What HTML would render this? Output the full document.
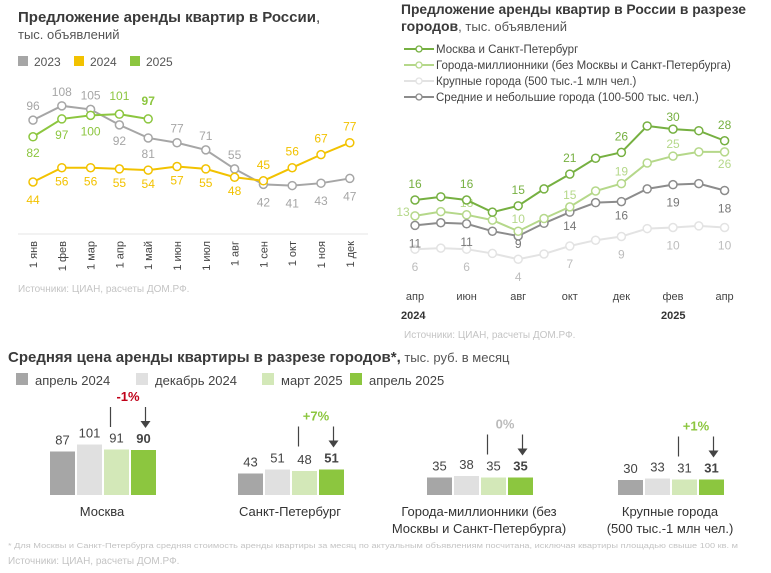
<!DOCTYPE html>
<html><head><meta charset="utf-8"><style>
body{margin:0;width:771px;height:568px;background:#fff;overflow:hidden;font-family:"Liberation Sans",sans-serif}
svg text{font-family:"Liberation Sans",sans-serif}
</style></head><body>
<svg id="s" width="771" height="568">
<g>
<text x="18" y="22" font-size="15" font-weight="bold" fill="#3a3a3a">Предложение аренды квартир в России<tspan font-weight="normal">,</tspan></text>
<text x="18" y="39" font-size="13" fill="#555">тыс. объявлений</text>
</g>
<g>
<text x="401" y="14" font-size="14" font-weight="bold" fill="#3a3a3a" textLength="345" lengthAdjust="spacingAndGlyphs">Предложение аренды квартир в России в разрезе</text>
<text x="401" y="31" font-size="14" font-weight="bold" fill="#3a3a3a">городов<tspan font-weight="normal" font-size="13" fill="#555">, тыс. объявлений</tspan></text>
</g>
<text x="18" y="292" font-size="10" fill="#c4c4c4">Источники: ЦИАН, расчеты ДОМ.РФ.</text>
<text x="404" y="338" font-size="10" fill="#c4c4c4">Источники: ЦИАН, расчеты ДОМ.РФ.</text>
<g>
<text x="8" y="362" font-size="15" font-weight="bold" fill="#3a3a3a">Средняя цена аренды квартиры в разрезе городов*,<tspan font-weight="normal" font-size="13" fill="#555"> тыс. руб. в месяц</tspan></text>
</g>
<text x="8" y="548" font-size="7" fill="#c4c4c4" textLength="730" lengthAdjust="spacingAndGlyphs">* Для Москвы и Санкт-Петербурга средняя стоимость аренды квартиры за месяц по актуальным объявлениям посчитана, исключая квартиры площадью свыше 100 кв. м</text>
<text x="8" y="564" font-size="10" fill="#c4c4c4">Источники: ЦИАН, расчеты ДОМ.РФ.</text>
</svg>
<script>
// ---- left chart data ----
const leftMonths=["1 янв","1 фев","1 мар","1 апр","1 май","1 июн","1 июл","1 авг","1 сен","1 окт","1 ноя","1 дек"];
const s2023=[96,108,105,92,81,77,71,55,42,41,43,47];
const s2024=[44,56,56,55,54,57,55,48,45,56,67,77];
const s2025=[82,97,100,101,97];
// ---- right chart data ----
const rightTicks=["апр","июн","авг","окт","дек","фев","апр"];
const rMsk=[16,16.6,16,13.7,14.9,18.1,20.9,23.9,25,30,29.4,29.1,27.2];
const rMil=[13,13.8,13.2,12.2,10.1,12.5,14.7,17.7,19.1,23,24.3,25.1,25.1];
const rLarge=[6.7,6.9,6.7,5.9,4.8,5.8,7.3,8.4,9.1,10.6,10.8,11.1,10.8];
const rMid=[11.2,11.7,11.5,10.1,9.2,11.6,13.7,15.5,15.7,18.1,18.9,19.1,17.8];
const lblMsk=[16,16,15,21,26,30,28];
const lblMil=[13,13,10,15,19,25,26];
const lblLarge=[6,6,4,7,9,10,10];
const lblMid=[11,11,9,14,16,19,18];
// ---- bar chart data ----
const barCats=[["Москва"],["Санкт-Петербург"],["Города-миллионники (без","Москвы и Санкт-Петербурга)"],["Крупные города","(500 тыс.-1 млн чел.)"]];
const barPeriods=["апрель 2024","декабрь 2024","март 2025","апрель 2025"];
const barVals=[[87,101,91,90],[43,51,48,51],[35,38,35,35],[30,33,31,31]];
const barChg=["-1%","+7%","0%","+1%"];

const NS="http://www.w3.org/2000/svg",S=document.getElementById('s');
function el(t,a,p){const e=document.createElementNS(NS,t);for(const k in a)e.setAttribute(k,a[k]);(p||S).appendChild(e);return e;}
function tx(x,y,s,a,p){const e=el('text',Object.assign({x:x,y:y},a),p);e.textContent=s;return e;}

// LEFT CHART
const lx=i=>33+i*28.8, ly=v=>182-(v-44)*1.19;
const L=el('g',{});


const legL=[["2023","#a6a6a6"],["2024","#f2c200"],["2025","#8cc63f"]];
legL.forEach((d,i)=>{const g=el('g',{},L);


el('rect',{x:18+i*56,y:56,width:10,height:10,fill:d[1]},g);tx(34+i*56,66,d[0],{'font-size':12,fill:'#555'},g);});
el('line',{x1:18,x2:368,y1:234,y2:234,stroke:'#eee','stroke-width':1.5},L);
leftMonths.forEach((m,i)=>{const t=tx(0,0,m,{'font-size':11,fill:'#444','text-anchor':'end',transform:`translate(${lx(i)+4},241) rotate(-90)`},L);

});
function series(arr,col,name,lbl){const g=el('g',{},L);


el('polyline',{points:arr.map((v,i)=>lx(i)+','+ly(v)).join(' '),fill:'none',stroke:col,'stroke-width':2},g);
arr.forEach((v,i)=>{const c=el('circle',{cx:lx(i),cy:ly(v),r:4,fill:'#fff',stroke:col,'stroke-width':1.5},g);


const o=lbl(i);tx(lx(i),ly(v)+o,v,{'font-size':12,fill:col,'text-anchor':'middle','font-weight':(name=='series-2025'&&i==4)?'bold':'normal'},g);});}
series(s2023,'#a6a6a6','series-2023',i=>(i==3||i==4)?20:(i<8?-10:22));
series(s2024,'#f2c200','series-2024',i=>(i<8?(i==0?22:18):-12));
series(s2025,'#8cc63f','series-2025',i=>(i<3?20:-14));

// RIGHT CHART
const rx=i=>415+i*25.8, ry=v=>200-(v-16)*5.29;
const R=el('g',{});


const legR=[["Москва и Санкт-Петербург","#76b041"],["Города-миллионники (без Москвы и Санкт-Петербурга)","#b5d88a"],["Крупные города (500 тыс.-1 млн чел.)","#e3e3e3"],["Средние и небольшие города (100-500 тыс. чел.)","#8c8c8c"]];
legR.forEach((d,i)=>{const g=el('g',{},R);const y=49+i*16;


el('line',{x1:404,x2:434,y1:y,y2:y,stroke:d[1],'stroke-width':2},g);el('circle',{cx:419,cy:y,r:3,fill:'#fff',stroke:d[1],'stroke-width':1.3},g);
tx(436,y+4,d[0],{'font-size':11.5,fill:'#444'},g);});
rightTicks.forEach((m,k)=>{const t=tx(rx(k*2),300,m,{'font-size':11,fill:'#444','text-anchor':'middle'},R);

});
tx(401,319,'2024',{'font-size':11,'font-weight':'bold',fill:'#333'},R);
tx(661,319,'2025',{'font-size':11,'font-weight':'bold',fill:'#333'},R);
function rser(arr,lbls,col,lcol,name,off){const g=el('g',{},R);


el('polyline',{points:arr.map((v,i)=>rx(i)+','+ry(v)).join(' '),fill:'none',stroke:col,'stroke-width':2},g);
arr.forEach((v,i)=>{const c=el('circle',{cx:rx(i),cy:ry(v),r:4,fill:'#fff',stroke:col,'stroke-width':1.5},g);

});
lbls.forEach((v,k)=>{const i=k*2;const o=off(k);tx(rx(i)+(o[0]||0),ry(arr[i])+o[1],v,{'font-size':12,fill:lcol,'text-anchor':'middle'},g);});}
rser(rLarge,lblLarge,'#e3e3e3','#bdbdbd','series-large-cities',k=>[0,22]);
rser(rMid,lblMid,'#8c8c8c','#777','series-mid-cities',k=>[0,k==2?12:(k==3||k==4)?18:22]);
rser(rMil,lblMil,'#b5d88a','#b5d88a','series-millionaire-cities',k=>k==0?[-12,0]:k==6?[0,16]:[0,-8]);
rser(rMsk,lblMsk,'#76b041','#76b041','series-moscow-spb',k=>k==5?[0,-8]:[0,-12]);

// BAR CHART
const bcol=["#a6a6a6","#e0e0e0","#d3e8b8","#8cc63f"];
const B=el('g',{});


barPeriods.forEach((p,i)=>{const g=el('g',{},B);const xs=[16,136,262,350][i];


el('rect',{x:xs,y:373,width:12,height:12,fill:bcol[i]},g);tx(xs+19,385,p,{'font-size':13,fill:'#444'},g);});
const gx=[50,238,427,618],bw=25,base=495,by=v=>base-v*0.5;
barVals.forEach((vals,c)=>{const g=el('g',{},B);


vals.forEach((v,j)=>{const x=gx[c]+j*27;const r=el('rect',{x:x,y:by(v),width:bw,height:base-by(v),fill:bcol[j]},g);


tx(x+bw/2,by(v)-7,v,{'font-size':13,fill:'#444','text-anchor':'middle','font-weight':j==3?'bold':'normal'},g);});
const bot=by(vals[3])-23;
const ax1=gx[c]+2*27+bw/2-6, ax2=gx[c]+3*27+bw/2+2;
el('line',{x1:ax1,x2:ax1,y1:bot-20,y2:bot,stroke:'#444','stroke-width':1.2},g);
el('line',{x1:ax2,x2:ax2,y1:bot-20,y2:bot-3,stroke:'#444','stroke-width':1.2},g);
el('path',{d:`M${ax2-5},${bot-6} L${ax2+5},${bot-6} L${ax2},${bot+1}Z`,fill:'#444'},g);
const ch=barChg[c];const cc=ch[0]=='-'?'#c00018':ch[0]=='+'?'#8cc63f':'#bbb';
tx((ax1+ax2)/2,bot-26,ch,{'font-size':13,'font-weight':'bold',fill:cc,'text-anchor':'middle'},g);
barCats[c].forEach((l,k)=>tx(gx[c]+52,516+k*17,l,{'font-size':13,fill:'#333','text-anchor':'middle'},g));});
</script>
</body></html>
